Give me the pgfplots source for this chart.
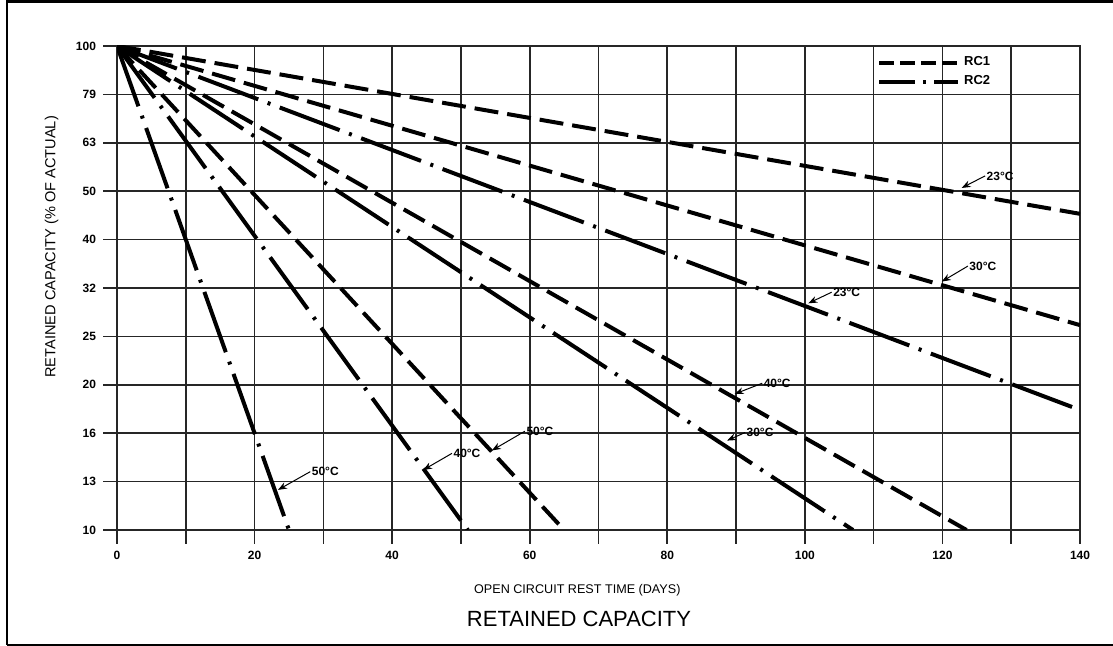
\documentclass[border=0pt]{standalone}
\usepackage{pgfplots}
\pgfplotsset{compat=1.18}
\usepackage{fontspec}
\setmainfont{Liberation Sans}
\usetikzlibrary{arrows.meta}

\tikzset{
  rc1/.style={black, line width=2pt, dash pattern=on 12pt off 4.5pt},
  rc2/.style={black, line width=2pt, dash pattern=on 32pt off 5pt on 1.5pt off 5pt},
  lead/.style={line width=0.5pt, -{Stealth[length=4.5pt,width=3.4pt]}},
  lab/.style={anchor=west, inner sep=0.6pt, font=\fontsize{6}{7}\selectfont\bfseries}
}

\begin{document}
\begin{tikzpicture}
\path[use as bounding box] (0pt,0pt) rectangle (556.5pt,323pt);
\draw[line width=1.1pt] (3.5pt,0.6pt) -- (3.5pt,322.2pt) -- (556.5pt,322.2pt);
\draw[line width=1.1pt] (3.5pt,0.6pt) -- (556.5pt,0.6pt);

\begin{axis}[
  at={(58.5pt,58pt)}, anchor=south west,
  scale only axis, width=481.5pt, height=242pt,
  xmin=0, xmax=140, ymin=10, ymax=100, ymode=log,
  xtick={0,20,...,140}, minor xtick={10,30,...,130},
  ytick={10,12.589,15.849,19.953,25.119,31.623,39.811,50.119,63.096,79.433,100},
  yticklabels={10,13,16,20,25,32,40,50,63,79,100},
  minor ytick={},
  xmajorgrids=true, xminorgrids=true, ymajorgrids=true,
  tick align=outside, tick pos=left,
  major tick length=7pt, minor tick length=7pt,
  axis line style={line width=0.9pt, black!85},
  major grid style={line width=0.8pt, black!85},
  minor grid style={line width=0.8pt, black!85},
  every tick/.style={line width=0.8pt, black!85},
  /pgf/number format/assume math mode=true,
  xticklabel style={font=\fontsize{6}{7}\selectfont\bfseries},
  yticklabel style={font=\fontsize{6}{7}\selectfont\bfseries},
  xlabel={OPEN CIRCUIT REST TIME (DAYS)},
  xlabel style={at={(axis description cs:0.478,-0.124)}, anchor=center, font=\fontsize{6.3}{7}\selectfont},
  ylabel={RETAINED CAPACITY (\% OF ACTUAL)},
  ylabel style={at={(axis description cs:-0.068,0.585)}, anchor=center, font=\fontsize{7.3}{8}\selectfont},
  legend cell align=left,
  legend style={at={(axis description cs:0.789,0.987)}, anchor=north west, draw=none, fill=none,
    inner sep=0pt, row sep=-0.5pt, font=\fontsize{6.5}{7}\selectfont\bfseries,
    /tikz/every even column/.append style={column sep=3pt}},
]
\addplot[rc1, legend image code/.code={\draw[black, line width=2pt, dash pattern=on 7.5pt off 3pt] (0pt,0pt) -- (39.5pt,0pt);}]
  coordinates {(0,100) (140,45)};
\addlegendentry{RC1}
\addplot[rc2, legend image code/.code={\draw[black, line width=2pt, dash pattern=on 18pt off 4pt on 1.5pt off 4pt] (0pt,0pt) -- (39.5pt,0pt);}]
  coordinates {(0,100) (140,17.7)};
\addlegendentry{RC2}
\addplot[rc1, forget plot] coordinates {(0,100) (140,26.5)};
\addplot[rc1, forget plot] coordinates {(0,100) (123.5,10)};
\addplot[rc1, forget plot] coordinates {(0,100) (65,10)};
\addplot[rc2, forget plot] coordinates {(0,100) (107,10)};
\addplot[rc2, forget plot] coordinates {(0,100) (51,10)};
\addplot[rc2, forget plot] coordinates {(0,100) (25,10)};

\draw[lead] (axis cs:126.2,53.9) -- (axis cs:122.8,50.9);
\node[lab] at (axis cs:126.2,53.9) {23°C};
\draw[lead] (axis cs:123.7,35.1) -- (axis cs:119.9,32.6);
\node[lab] at (axis cs:123.7,35.1) {30°C};
\draw[lead] (axis cs:103.9,31.0) -- (axis cs:100.5,29.4);
\node[lab] at (axis cs:103.9,31.0) {23°C};
\draw[lead] (axis cs:93.8,20.1) -- (axis cs:89.8,19.1);
\node[lab] at (axis cs:93.8,20.1) {40°C};
\draw[lead] (axis cs:91.3,15.9) -- (axis cs:88.7,15.3);
\node[lab] at (axis cs:91.3,15.9) {30°C};
\draw[lead] (axis cs:59.3,16.0) -- (axis cs:54.5,14.6);
\node[lab] at (axis cs:59.3,16.0) {50°C};
\draw[lead] (axis cs:48.7,14.4) -- (axis cs:44.5,13.3);
\node[lab] at (axis cs:48.7,14.4) {40°C};
\draw[lead] (axis cs:28.1,13.2) -- (axis cs:23.4,12.1);
\node[lab] at (axis cs:28.1,13.2) {50°C};
\end{axis}

\node[font=\fontsize{11}{13}\selectfont] at (289.5pt,13.5pt) {RETAINED CAPACITY};
\end{tikzpicture}
\end{document}
